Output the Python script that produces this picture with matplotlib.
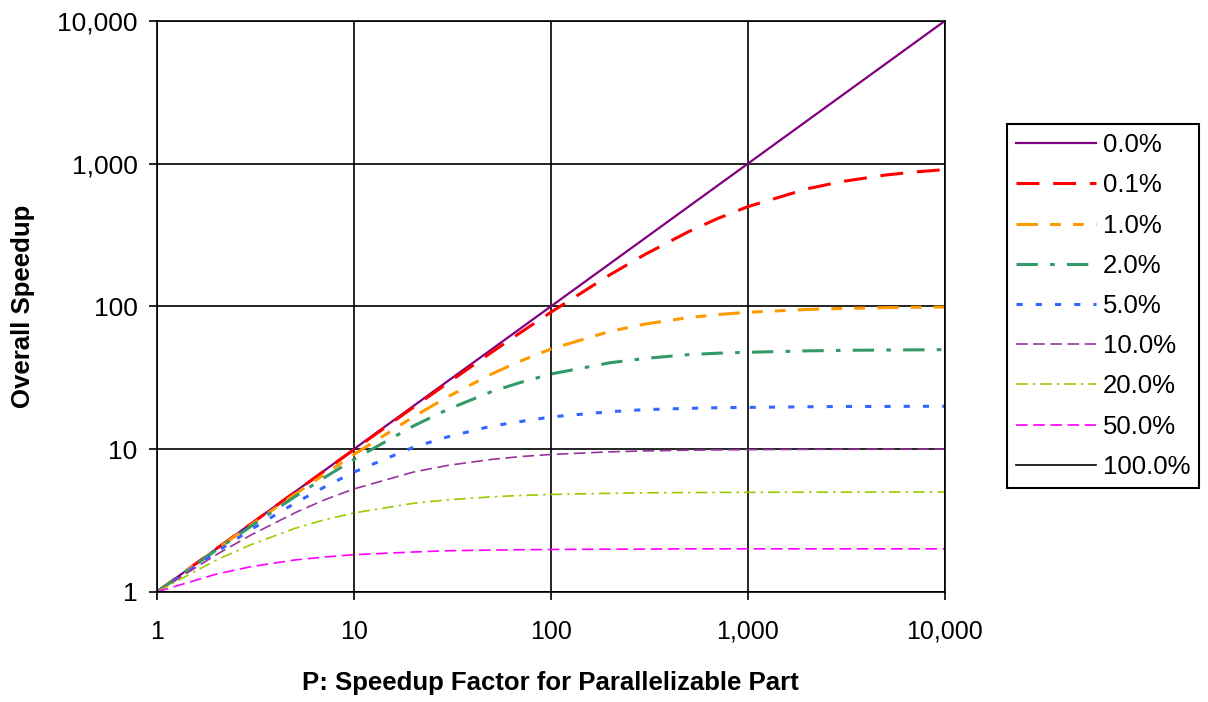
import matplotlib
matplotlib.use("Agg")
import matplotlib.pyplot as plt
from matplotlib.ticker import FuncFormatter

plt.rcParams['font.family'] = ['Liberation Sans', 'DejaVu Sans']

# P values (speedup factor for parallelizable part)
p_values = [1, 2, 3, 5, 7, 10, 20, 30, 50, 70, 100, 200, 300, 500, 700,
            1000, 2000, 3000, 5000, 7000, 10000]

# overall speedup, one list per serial fraction
speedup_0_0 = [1, 2, 3, 5, 7, 10, 20, 30, 50, 70, 100, 200, 300, 500, 700,
               1000, 2000, 3000, 5000, 7000, 10000]
speedup_0_1 = [1, 2.0, 2.99, 4.98, 6.96, 9.91, 19.6, 29.1, 47.7, 65.5, 91,
               167, 231, 334, 412, 500, 667, 750, 833, 875, 909]
speedup_1_0 = [1, 1.98, 2.94, 4.81, 6.6, 9.17, 16.8, 23.3, 33.6, 41.4, 50.3,
               66.9, 75.2, 83.5, 87.6, 91, 95.2, 96.8, 98, 98.6, 99]
speedup_2_0 = [1, 1.96, 2.88, 4.63, 6.25, 8.47, 14.5, 19, 25.3, 29.3, 33.6,
               40.3, 43.2, 45.9, 47, 47.7, 48.8, 49.2, 49.5, 49.6, 49.8]
speedup_5_0 = [1, 1.9, 2.73, 4.17, 5.38, 6.9, 10.3, 12.2, 14.5, 15.6, 16.8,
               18.3, 18.9, 19.3, 19.5, 19.6, 19.8, 19.9, 19.9, 19.95, 19.96]
speedup_10_0 = [1, 1.82, 2.5, 3.57, 4.38, 5.26, 6.9, 7.69, 8.47, 8.86, 9.17,
                9.57, 9.71, 9.82, 9.87, 9.91, 9.96, 9.97, 9.98, 9.99, 9.99]
speedup_20_0 = [1, 1.67, 2.14, 2.78, 3.18, 3.57, 4.17, 4.41, 4.63, 4.73, 4.81,
                4.9, 4.94, 4.96, 4.97, 4.98, 4.99, 4.99, 5, 5, 5]
speedup_50_0 = [1, 1.33, 1.5, 1.67, 1.75, 1.82, 1.9, 1.94, 1.96, 1.97, 1.98,
                1.99, 1.99, 2, 2, 2, 2, 2, 2, 2, 2]
speedup_100_0 = [1] * len(p_values)

labels = ["0.0%", "0.1%", "1.0%", "2.0%", "5.0%", "10.0%", "20.0%", "50.0%", "100.0%"]
series = [speedup_0_0, speedup_0_1, speedup_1_0, speedup_2_0, speedup_5_0,
          speedup_10_0, speedup_20_0, speedup_50_0, speedup_100_0]
colors = ["#800080", "#FF0000", "#FF9900", "#339966", "#3366FF",
          "#993399", "#99CC00", "#FF00FF", "#000000"]
widths = [1.6, 2.2, 2.2, 2.2, 2.2, 1.2, 1.2, 1.2, 1.2]
styles = ["-", (0, (7.5, 4.5)), (0, (7, 4, 3.5, 4, 3.5, 4)), (0, (7, 4, 1.5, 4)),
          (0, (2, 4.3)), (0, (7, 3.3)), (0, (7, 3, 1.5, 3)), (0, (7, 3.3)), "-"]

fig = plt.figure(figsize=(12.08, 7.02), dpi=100)
ax = fig.add_axes([0.130, 0.157, 0.652, 0.813])

for vals, lab, c, w, ls in zip(series, labels, colors, widths, styles):
    ax.plot(p_values, vals, color=c, lw=w, ls=ls, label=lab, zorder=3)

ax.set_xscale("log")
ax.set_yscale("log")
ax.set_xlim(1, 10000)
ax.set_ylim(1, 10000)
ticks = [1, 10, 100, 1000, 10000]
ax.set_xticks(ticks)
ax.set_yticks(ticks)
ax.minorticks_off()
fmt = FuncFormatter(lambda v, pos: f"{int(round(v)):,}")
ax.xaxis.set_major_formatter(fmt)
ax.yaxis.set_major_formatter(fmt)
ax.tick_params(labelsize=18, direction="out", length=6, width=1.2, pad=14)
ax.tick_params(axis="y", labelsize=19, pad=8)
ax.grid(True, color="black", lw=1.2)
for sp in ax.spines.values():
    sp.set_linewidth(1.2)
    sp.set_zorder(4)

ax.set_xlabel("P: Speedup Factor for Parallelizable Part", fontsize=18.5,
              fontweight="bold", labelpad=20)
ax.set_ylabel("Overall Speedup", fontsize=18.5, fontweight="bold", labelpad=16)

leg = fig.legend(loc="upper left", bbox_to_anchor=(0.834, 0.823), fontsize=18.5,
                 handlelength=3.1, handletextpad=0.25, labelspacing=0.63,
                 borderpad=0.35, borderaxespad=0, fancybox=False, framealpha=1,
                 edgecolor="black")
leg.get_frame().set_linewidth(1.5)

plt.savefig("out.png")
plt.close()
